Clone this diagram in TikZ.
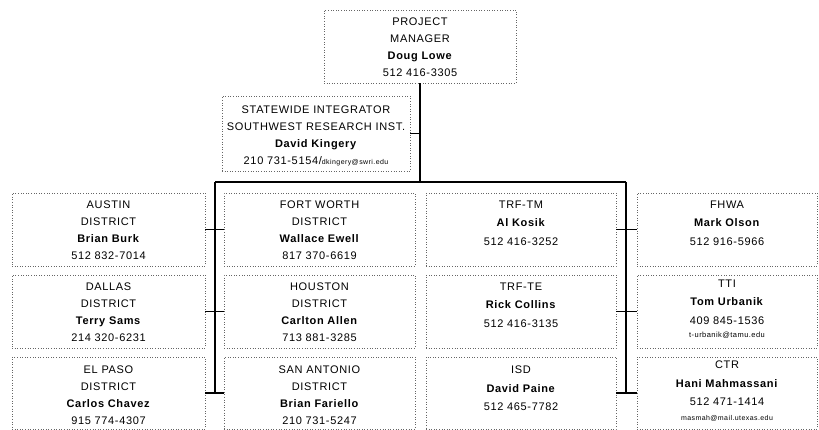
\documentclass[tikz,border=0pt]{standalone}
\usepackage{fontspec}
\setmainfont{Liberation Sans}[LetterSpace=6]
\begin{document}
\begin{tikzpicture}[x=1pt,y=-1pt]
\tikzset{
  box/.style={draw=black!60, dotted, line width=0.6pt, rectangle, inner sep=0pt},
  lbl/.style={anchor=north, inner sep=0pt, align=center, font=\fontsize{11}{17}\selectfont},
  lblw/.style={lbl, font=\fontsize{11}{18.5}\selectfont},
  link/.style={line width=1.1pt, draw=black},
}
\useasboundingbox[fill=white] (0,0) rectangle (819,430);
% boxes
\node[box, minimum width=192pt, minimum height=73pt] (pm) at (420,46.5) {};
\node[box, minimum width=188pt, minimum height=75pt] (swi) at (316,133.5) {};
\node[box, minimum width=193pt, minimum height=73pt] (austin) at (108.5,229.5) {};
\node[box, minimum width=191pt, minimum height=73pt] (fortworth) at (319.5,229.5) {};
\node[box, minimum width=190pt, minimum height=73pt] (trftm) at (521,229.5) {};
\node[box, minimum width=180pt, minimum height=73pt] (fhwa) at (727,229.5) {};
\node[box, minimum width=193pt, minimum height=73pt] (dallas) at (108.5,311.5) {};
\node[box, minimum width=191pt, minimum height=73pt] (houston) at (319.5,311.5) {};
\node[box, minimum width=190pt, minimum height=73pt] (trfte) at (521,311.5) {};
\node[box, minimum width=180pt, minimum height=73pt] (tti) at (727,311.5) {};
\node[box, minimum width=193pt, minimum height=72pt] (elpaso) at (108.5,393) {};
\node[box, minimum width=191pt, minimum height=72pt] (sanantonio) at (319.5,393) {};
\node[box, minimum width=190pt, minimum height=72pt] (isd) at (521,393) {};
\node[box, minimum width=180pt, minimum height=72pt] (ctr) at (727,393) {};
% labels
\node[lbl] (pmT) at ([yshift=-8pt]pm.north) {PROJECT\\MANAGER\\\textbf{Doug Lowe}\\512 416-3305};
\node[lbl] (swiT) at ([yshift=-10pt]swi.north) {STATEWIDE INTEGRATOR\\SOUTHWEST RESEARCH INST.\\\textbf{David Kingery}\\210 731-5154/{\fontsize{7}{8}\selectfont dkingery@swri.edu}};
\node[lbl] (austinT) at ([yshift=-8pt]austin.north) {AUSTIN\\DISTRICT\\\textbf{Brian Burk}\\512 832-7014};
\node[lbl] (fortworthT) at ([yshift=-8pt]fortworth.north) {FORT WORTH\\DISTRICT\\\textbf{Wallace Ewell}\\817 370-6619};
\node[lblw] (trftmT) at ([yshift=-8pt]trftm.north) {TRF-TM\\\textbf{Al Kosik}\\512 416-3252};
\node[lblw] (fhwaT) at ([yshift=-8pt]fhwa.north) {FHWA\\\textbf{Mark Olson}\\512 916-5966};
\node[lbl] (dallasT) at ([yshift=-8pt]dallas.north) {DALLAS\\DISTRICT\\\textbf{Terry Sams}\\214 320-6231};
\node[lbl] (houstonT) at ([yshift=-8pt]houston.north) {HOUSTON\\DISTRICT\\\textbf{Carlton Allen}\\713 881-3285};
\node[lblw] (trfteT) at ([yshift=-8pt]trfte.north) {TRF-TE\\\textbf{Rick Collins}\\512 416-3135};
\node[lblw] (ttiT) at ([yshift=-5pt]tti.north) {TTI\\\textbf{Tom Urbanik}\\409 845-1536\\[-5pt]{\fontsize{7.5}{8}\selectfont t-urbanik@tamu.edu}};
\node[lbl] (elpasoT) at ([yshift=-9pt]elpaso.north) {EL PASO\\DISTRICT\\\textbf{Carlos Chavez}\\915 774-4307};
\node[lbl] (sanantonioT) at ([yshift=-9pt]sanantonio.north) {SAN ANTONIO\\DISTRICT\\\textbf{Brian Fariello}\\210 731-5247};
\node[lblw] (isdT) at ([yshift=-9pt]isd.north) {ISD\\\textbf{David Paine}\\512 465-7782};
\node[lblw] (ctrT) at ([yshift=-4pt]ctr.north) {CTR\\\textbf{Hani Mahmassani}\\512 471-1414\\[-4pt]{\fontsize{7}{8}\selectfont masmah@mail.utexas.edu}};
% trunk coordinates
\coordinate (busM) at (420,182);
\coordinate (busL) at (215,182);
\coordinate (busR) at (626,182);
% connectors
\draw[link] (pm.south) -- (busM);
\draw[link] (swi.east) -- (swi.east -| busM);
\draw[link] (busL) -- (busR);
\draw[link] (busL) -- (busL |- elpaso.east);
\draw[link] (busR) -- (busR |- ctr.west);
\draw[link] (austin.east) -- (fortworth.west);
\draw[link] (dallas.east) -- (houston.west);
\draw[link] (elpaso.east) -- (sanantonio.west);
\draw[link] (trftm.east) -- (fhwa.west);
\draw[link] (trfte.east) -- (tti.west);
\draw[link] (isd.east) -- (ctr.west);
\end{tikzpicture}
\end{document}
